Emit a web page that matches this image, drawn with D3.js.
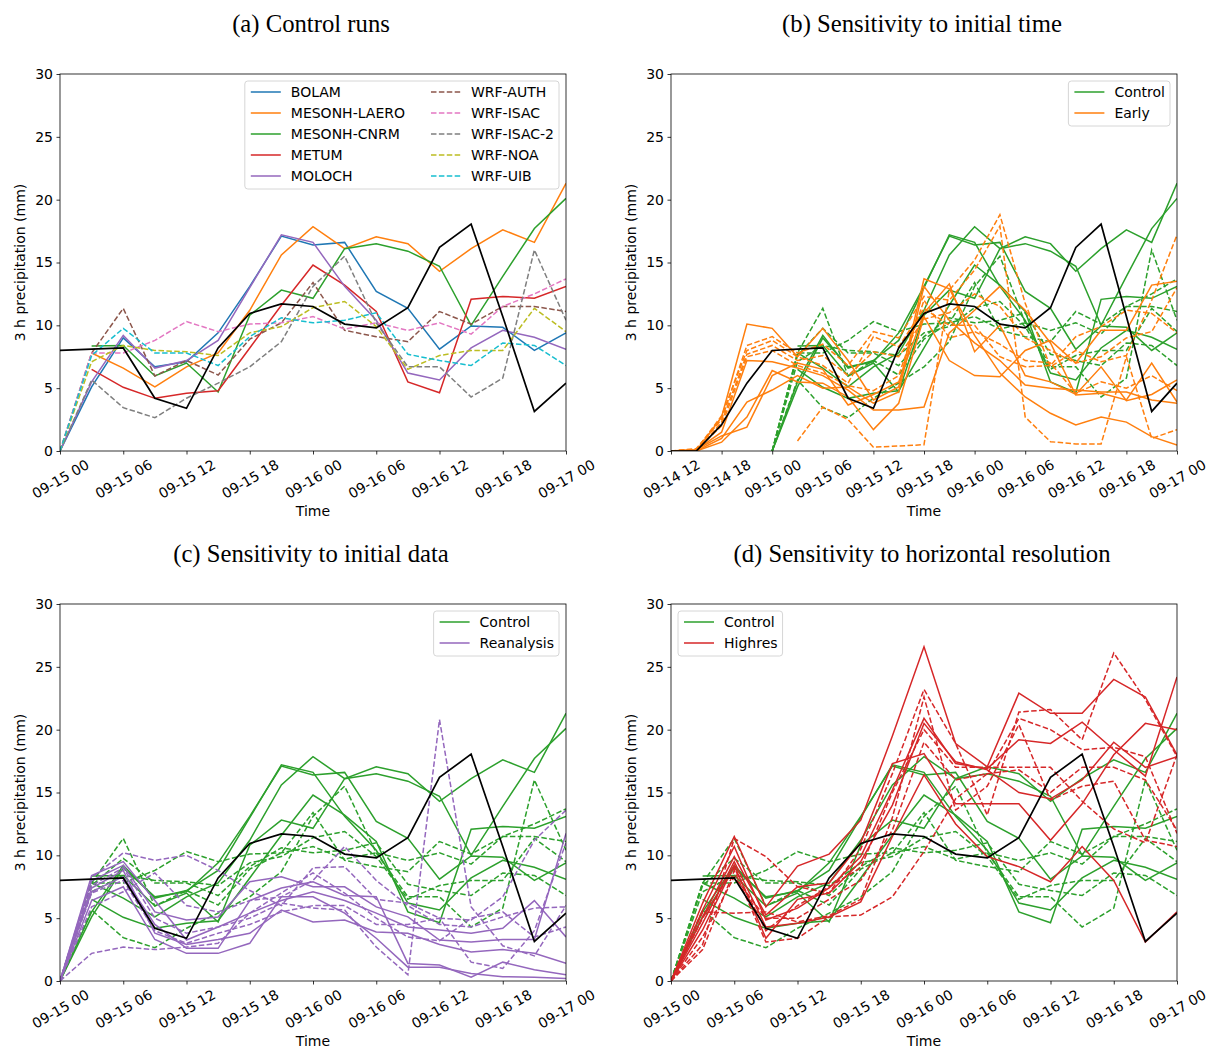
<!DOCTYPE html>
<html>
<head>
<meta charset="utf-8">
<script src="https://cdn.jsdelivr.net/npm/d3@7"></script>
<style>
  body { margin: 0; background: #fff; }
  text { fill: #000; }
</style>
</head>
<body>
<svg id="fig" width="1208" height="1048"></svg>
<script>
// ---- data (3 h precipitation, mm, one value every 3 h) ----
// observation, from 09-14 12 to 09-17 00
var obs = [0, 0, 2.1, 5.4, 8.0, 8.1, 8.2, 4.2, 3.4, 8.2, 10.95, 11.7, 11.5, 10.1, 9.8, 11.4, 16.2, 18.05, 10.7, 3.15, 5.4];

// control runs, from 09-15 00 to 09-17 00
var modelNames = ["BOLAM", "MESONH-LAERO", "MESONH-CNRM", "METUM", "MOLOCH",
                  "WRF-AUTH", "WRF-ISAC", "WRF-ISAC-2", "WRF-NOA", "WRF-UIB"];
var bolam     = [0, 5.1, 9.0, 6.7, 7.1, 9.4, 13.1, 17.1, 16.4, 16.6, 12.7, 11.35, 8.1, 9.95, 9.84, 8.0, 9.4];
var laero     = [null, 7.8, 6.6, 5.1, 6.7, 7.8, 11.2, 15.6, 17.85, 16.1, 17.05, 16.5, 14.3, 16.1, 17.6, 16.6, 21.3];
var cnrm      = [null, 8.36, 8.4, 5.97, 7.0, 4.7, 10.8, 12.8, 12.15, 16.1, 16.5, 15.9, 14.7, 10.0, 13.9, 17.7, 20.1];
var metum     = [null, 6.5, 5.07, 4.19, 4.6, 4.8, 8.2, 11.6, 14.8, 13.2, 11.1, 5.5, 4.64, 12.07, 12.3, 12.15, 13.1];
var moloch    = [0, 5.5, 9.2, 6.6, 7.2, 8.8, 13.0, 17.2, 16.6, 13.1, 10.4, 6.2, 5.65, 8.2, 9.6, 9.05, 8.1];
var wrfAuth   = [0, 7.8, 11.35, 5.97, 7.2, 6.05, 8.9, 10.2, 13.4, 9.6, 9.1, 8.7, 11.1, 10.1, 11.5, 11.5, 11.1];
var wrfIsac   = [0, 7.8, 7.8, 8.8, 10.3, 9.5, 10.1, 10.2, 10.7, 9.7, 10.2, 9.6, 10.2, 9.3, 11.5, 12.5, 13.7];
var wrfIsac2  = [0, 5.65, 3.45, 2.65, 4.2, 5.4, 6.7, 8.7, 13.1, 15.5, 10.2, 6.7, 6.7, 4.3, 5.8, 16.0, 10.4];
var wrfNoa    = [0, 7.1, 8.4, 8.0, 7.9, 7.6, 9.4, 9.9, 11.4, 11.9, 9.9, 6.5, 7.6, 8.0, 8.0, 11.35, 9.5];
var wrfUib    = [0, 7.6, 9.76, 7.8, 7.8, 6.8, 9.1, 10.6, 10.2, 10.4, 11.0, 7.7, 7.2, 6.8, 8.6, 8.4, 6.8];
var modelColors = ["#1f77b4", "#ff7f0e", "#2ca02c", "#d62728", "#9467bd",
                   "#8c564b", "#e377c2", "#7f7f7f", "#bcbd22", "#17becf"];

// early runs, from 09-14 12 to 09-17 00 (first five solid, last five dashed)
var early = [
  [0, 0, 2.7, 10.1, 9.76, 7.5, 9.76, 7.2, 4.06, 5.1, 13.7, 12.9, 9.2, 6.2, 4.3, 3.0, 2.07, 2.7, 2.3, 1.14, 0.48],
  [0, 0.1, 1.5, 7.2, 7.1, 6.6, 6.0, 4.85, 3.26, 3.26, 3.5, 9.4, 11.2, 13.1, 11.2, 8.6, 4.45, 4.6, 4.06, 7.0, 3.9],
  [0, 0, 1.0, 3.9, 4.85, 6.0, 5.0, 5.1, 3.8, 4.7, 13.1, 10.4, 8.6, 7.2, 5.25, 5.0, 4.85, 4.7, 4.7, 4.06, 3.8],
  [0, 0, 0.7, 2.7, 6.4, 5.5, 5.4, 4.3, 1.7, 3.8, 10.7, 7.2, 6.0, 5.9, 8.0, 8.8, 7.0, 9.6, 9.6, 13.2, 13.5],
  [0, 0.1, 1.2, 1.9, 6.0, 7.0, 6.5, 3.66, 4.5, 5.5, 11.0, 13.3, 7.9, 10.0, 6.0, 5.5, 4.5, 6.7, 4.0, 4.5, 5.65],
  [null, null, null, null, null, 0.8, 3.5, 2.5, 0.3, 0.4, 0.5, 12.8, 15.2, 18.8, 11.75, 6.7, 8.0, 7.1, 7.6, 12.0, 17.2],
  [0, 0.2, 2.5, 8.4, 9.1, 7.8, 8.5, 6.8, 9.5, 9.0, 12.3, 12.0, 14.4, 17.9, 2.7, 0.74, 0.56, 0.56, 7.5, 1.0, 1.7],
  [0, 0.1, 2.8, 8.0, 8.8, 7.5, 6.8, 5.4, 9.1, 8.3, 11.35, 10.0, 10.0, 7.5, 6.7, 6.8, 9.1, 9.9, 11.2, 10.95, 9.4],
  [0, 0, 2.3, 7.7, 8.4, 7.2, 7.6, 6.0, 7.9, 7.5, 10.5, 11.0, 12.5, 11.5, 9.0, 8.0, 7.0, 7.5, 9.0, 9.5, 13.0],
  [0, 0.1, 2.0, 7.5, 8.0, 6.8, 6.2, 5.2, 4.8, 6.0, 12.0, 9.0, 9.5, 8.5, 7.2, 7.0, 4.6, 5.5, 5.0, 6.0, 4.8]
];

// reanalysis runs, from 09-15 00 to 09-17 00
var reanalysis = [
  [0, 8.4, 9.5, 6.4, 3.26, 4.3, 5.4, 6.4, 7.1, 6.4, 5.4, 4.3, 4.06, 3.8, 4.2, 6.4, 3.5],
  [0, 8.0, 9.2, 5.5, 4.85, 5.1, 7.9, 8.3, 7.5, 7.5, 5.9, 5.1, 3.26, 3.1, 3.3, 3.3, 11.75],
  [0, 7.4, 8.8, 3.8, 2.9, 3.3, 3.8, 5.65, 4.7, 4.85, 3.9, 3.8, 2.9, 2.3, 2.5, 2.2, 1.4],
  [0, 7.1, 8.3, 4.5, 2.6, 2.6, 6.4, 7.4, 7.9, 6.8, 6.7, 1.4, 1.27, 0.3, 1.5, 0.9, 0.5],
  [0, 6.4, 7.5, 3.3, 2.2, 2.2, 3.0, 6.7, 6.7, 5.4, 3.4, 1.1, 1.1, 0.6, 0.34, 0.3, 0.2],
  [0, 8.2, 10.2, 9.6, 10.0, 8.8, 7.2, 6.0, 9.0, 9.1, 6.5, 6.2, 5.0, 4.85, 6.7, 11.2, 13.6],
  [0, 5.9, 7.1, 8.6, 6.0, 5.5, 6.4, 6.7, 8.0, 10.7, 8.0, 6.0, 4.5, 4.3, 5.1, 5.8, 5.9],
  [0, 2.2, 2.7, 2.5, 2.7, 3.0, 5.4, 7.0, 8.6, 7.0, 5.0, 3.5, 3.2, 5.0, 5.5, 3.5, 4.3],
  [0, 7.6, 9.0, 5.0, 3.8, 4.3, 5.0, 6.2, 5.8, 5.65, 2.7, 0.5, 20.8, 5.9, 2.8, 2.0, 6.0],
  [0, 7.0, 8.0, 4.0, 3.0, 3.8, 4.5, 5.5, 6.0, 6.0, 4.5, 4.5, 5.0, 1.5, 1.0, 4.0, 11.0]
];

// high resolution runs, from 09-15 00 to 09-17 00
var highres = [
  [0, 6.2, 11.5, 5.9, 9.15, 10.1, 12.8, 19.5, 26.6, 18.9, 17.05, 22.9, 21.3, 21.3, 24.0, 22.6, 18.0],
  [0, 5.65, 10.7, 4.85, 5.8, 7.4, 9.9, 15.2, 20.9, 17.3, 16.9, 19.2, 18.9, 20.6, 18.4, 16.3, 24.2],
  [0, 5.1, 9.9, 5.25, 7.5, 7.8, 11.0, 17.3, 18.1, 14.1, 14.1, 14.1, 11.2, 14.1, 18.0, 20.5, 20.0],
  [0, 4.6, 9.5, 4.3, 4.6, 5.1, 6.3, 11.5, 16.4, 12.5, 9.9, 9.1, 7.9, 10.7, 8.0, 3.1, 5.5],
  [0, 4.06, 9.2, 3.4, 6.5, 7.0, 9.5, 14.0, 20.5, 17.45, 16.8, 15.0, 14.5, 16.0, 19.0, 17.0, 17.85],
  [0, 2.9, 11.35, 9.9, 7.5, 7.0, 10.5, 16.5, 23.2, 18.9, 13.2, 21.4, 21.6, 19.2, 26.1, 22.4, 17.85],
  [0, 2.5, 8.8, 3.1, 3.4, 5.1, 5.25, 6.7, 10.3, 14.5, 16.5, 20.9, 20.0, 18.4, 18.6, 17.85, 11.75],
  [0, 5.5, 5.4, 5.5, 4.7, 5.2, 6.5, 13.0, 22.6, 13.6, 15.5, 20.4, 14.4, 15.5, 15.9, 11.2, 10.7],
  [0, 5.0, 9.0, 4.0, 6.0, 7.5, 9.0, 15.0, 20.0, 17.0, 17.0, 17.0, 17.0, 14.3, 12.1, 11.0, 18.0],
  [0, 3.5, 8.3, 5.0, 5.0, 6.5, 8.0, 12.0, 19.0, 16.0, 16.5, 16.8, 15.0, 17.0, 17.0, 16.0, 12.0]
];

var yTicks = [0, 5, 10, 15, 20, 25, 30];

// ---- layout ----
var W = 506, H = 377;
var H3 = 3 * 3600 * 1000;
var t1412 = Date.UTC(2020, 8, 14, 12);
var t1500 = Date.UTC(2020, 8, 15, 0);
var t1700 = Date.UTC(2020, 8, 17, 0);
var sans = "DejaVu Sans, sans-serif";
var serif = "Liberation Serif, Times New Roman, serif";
var green = "#2ca02c";

function toPoints(vals, start) {
  return vals.map(function (v, i) { return { t: new Date(start + i * H3), v: v }; })
             .filter(function (d) { return d.v !== null; });
}

var controlPts = [bolam, laero, cnrm, metum, moloch, wrfAuth, wrfIsac, wrfIsac2, wrfNoa, wrfUib]
  .map(function (s) { return toPoints(s, t1500); });
var obsPts = toPoints(obs, t1412);

var panels = [
  { title: "(a) Control runs", left: 60, top: 74, start: t1500 },
  { title: "(b) Sensitivity to initial time", left: 671, top: 74, start: t1412,
    runs: early, runStart: t1412, color: "#ff7f0e", name: "Early", legendLeft: false },
  { title: "(c) Sensitivity to initial data", left: 60, top: 604, start: t1500,
    runs: reanalysis, runStart: t1500, color: "#9467bd", name: "Reanalysis", legendLeft: false },
  { title: "(d) Sensitivity to horizontal resolution", left: 671, top: 604, start: t1500,
    runs: highres, runStart: t1500, color: "#d62728", name: "Highres", legendLeft: true }
];

var svg = d3.select("#fig");
var fmt = d3.utcFormat("%m-%d %H");

panels.forEach(function (p, pi) {
  var x = d3.scaleUtc().domain([new Date(p.start), new Date(t1700)]).range([p.left, p.left + W]);
  var y = d3.scaleLinear().domain([0, 30]).range([p.top + H, p.top]);
  var bottom = p.top + H;

  var g = svg.append("g");

  // clip
  var clipId = "clip" + pi;
  g.append("clipPath").attr("id", clipId).append("rect")
    .attr("x", p.left).attr("y", p.top).attr("width", W).attr("height", H);

  var line = d3.line().x(function (d) { return x(d.t); }).y(function (d) { return y(d.v); });
  var lines = g.append("g").attr("clip-path", "url(#" + clipId + ")");

  // control runs
  controlPts.forEach(function (pts, i) {
    var col = p.runs ? green : modelColors[i];
    lines.append("path")
      .attr("d", line(pts))
      .attr("fill", "none")
      .attr("stroke", col)
      .attr("stroke-width", 1.5)
      .attr("stroke-dasharray", i >= 5 ? "5.5,2.4" : null);
  });

  // sensitivity runs
  if (p.runs) {
    p.runs.forEach(function (s, i) {
      lines.append("path")
        .attr("d", line(toPoints(s, p.runStart)))
        .attr("fill", "none")
        .attr("stroke", p.color)
        .attr("stroke-width", 1.5)
        .attr("stroke-dasharray", i >= 5 ? "5.5,2.4" : null);
    });
  }

  // observation
  lines.append("path")
    .attr("d", line(obsPts.filter(function (d) { return +d.t >= p.start; })))
    .attr("fill", "none")
    .attr("stroke", "#000")
    .attr("stroke-width", 1.7);

  // axes
  var xAxis = d3.axisBottom(x).ticks(d3.utcHour.every(6)).tickFormat(fmt)
    .tickSize(3.5).tickSizeOuter(0);
  var xg = g.append("g").attr("transform", "translate(0," + bottom + ")").call(xAxis);
  xg.select(".domain").remove();
  xg.selectAll(".tick line").attr("stroke", "#000").attr("stroke-width", 0.8);
  xg.selectAll(".tick text")
    .attr("y", null).attr("dy", null)
    .attr("dominant-baseline", "central")
    .attr("text-anchor", "middle")
    .attr("transform", "translate(0,28) rotate(-30)")
    .style("font-family", sans).style("font-size", "14px");

  var yAxis = d3.axisLeft(y).tickValues(yTicks).tickSize(3.5).tickPadding(3.5).tickSizeOuter(0);
  var yg = g.append("g").attr("transform", "translate(" + p.left + ",0)").call(yAxis);
  yg.select(".domain").remove();
  yg.selectAll(".tick line").attr("stroke", "#000").attr("stroke-width", 0.8);
  yg.selectAll(".tick text").style("font-family", sans).style("font-size", "14px");

  g.append("rect")
    .attr("x", p.left).attr("y", p.top).attr("width", W).attr("height", H)
    .attr("fill", "none").attr("stroke", "#000").attr("stroke-width", 0.8);

  // labels
  g.append("text")
    .attr("x", p.left + W / 2 - 2).attr("y", p.top - 42)
    .attr("text-anchor", "middle")
    .style("font-family", serif).style("font-size", "24.7px")
    .text(p.title);
  g.append("text")
    .attr("x", p.left + W / 2).attr("y", bottom + 60)
    .attr("text-anchor", "middle").attr("dominant-baseline", "central")
    .style("font-family", sans).style("font-size", "14px")
    .text("Time");
  g.append("text")
    .attr("transform", "translate(" + (p.left - 40) + "," + (p.top + H / 2) + ") rotate(-90)")
    .attr("text-anchor", "middle").attr("dominant-baseline", "central")
    .style("font-family", sans).style("font-size", "14px")
    .text("3 h precipitation (mm)");

  // legend
  var items;
  if (p.runs) {
    items = [[{ label: "Control", color: green, dash: false },
              { label: p.name, color: p.color, dash: false }]];
  } else {
    items = [modelNames.slice(0, 5).map(function (n, i) { return { label: n, color: modelColors[i], dash: false }; }),
             modelNames.slice(5).map(function (n, i) { return { label: n, color: modelColors[i + 5], dash: true }; })];
  }
  drawLegend(g, items, p);
});

function drawLegend(g, cols, p) {
  var lg = g.append("g");
  var box = lg.append("rect");
  var pad = 6, handle = 30, gap = 10, colGap = 26, rowH = 21;
  var nRows = d3.max(cols, function (c) { return c.length; });
  var colX = 0;
  cols.forEach(function (col) {
    var maxW = 0;
    col.forEach(function (it, r) {
      var yy = 11 + r * rowH;
      lg.append("line")
        .attr("x1", colX).attr("x2", colX + handle).attr("y1", yy).attr("y2", yy)
        .attr("stroke", it.color).attr("stroke-width", 1.5)
        .attr("stroke-dasharray", it.dash ? "5.5,2.4" : null);
      var t = lg.append("text")
        .attr("x", colX + handle + gap).attr("y", yy)
        .attr("dominant-baseline", "central")
        .style("font-family", sans).style("font-size", "14px")
        .text(it.label);
      maxW = Math.max(maxW, t.node().getComputedTextLength());
    });
    colX += handle + gap + maxW + colGap;
  });
  var innerW = colX - colGap;
  var boxW = innerW + 2 * pad - 1;
  var boxH = 24 + (nRows - 1) * rowH;
  box.attr("x", -pad).attr("y", 0).attr("width", boxW).attr("height", boxH)
    .attr("rx", 3).attr("fill", "#fff").attr("fill-opacity", 0.8)
    .attr("stroke", "#ccc").attr("stroke-width", 0.8);
  var bx = p.legendLeft ? p.left + 7 : p.left + W - 7 - boxW;
  lg.attr("transform", "translate(" + (bx + pad) + "," + (p.top + 7) + ")");
}
</script>
</body>
</html>
